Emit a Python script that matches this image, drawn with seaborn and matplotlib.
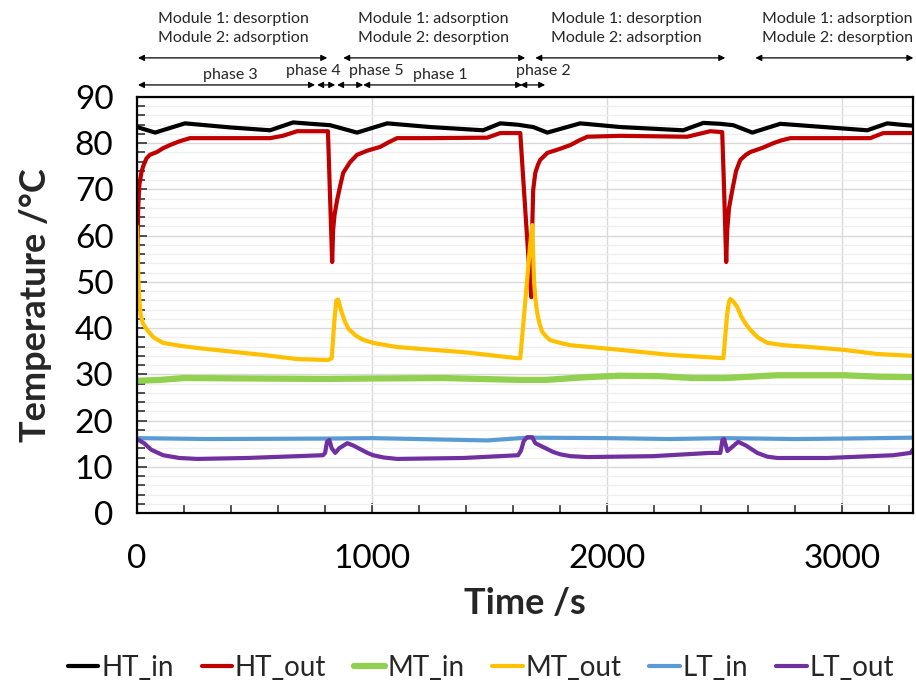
import numpy as np
import pandas as pd
import seaborn as sns
import matplotlib.pyplot as plt
from matplotlib.ticker import MultipleLocator
import matplotlib.transforms as mtransforms

# values (time in s, temperature in degC)
t_ht_in = [0, 77, 204, 400, 566, 664, 740, 821, 936, 1064, 1247, 1472, 1545, 1620, 1685,
           1745, 1885, 2055, 2323, 2409, 2480, 2536, 2617, 2736, 3106, 3191, 3250, 3300]
ht_in = [83.5, 82.3, 84.3, 83.4, 82.8, 84.5, 84.2, 83.9, 82.3, 84.3, 83.5, 82.8, 84.3, 84.0, 83.5,
         82.3, 84.3, 83.5, 82.8, 84.4, 84.2, 83.9, 82.3, 84.2, 82.8, 84.3, 84.0, 83.8]

t_ht_out = [0, 2, 5, 10, 18, 26, 40, 55, 85, 110, 140, 180, 225, 400, 566, 620, 681, 812, 820,
            830, 834, 840, 851, 865, 877, 906, 936, 980, 1034, 1070, 1106, 1247, 1489, 1545,
            1630, 1655, 1672, 1677, 1680, 1685, 1690, 1694, 1705, 1715, 1745, 1800, 1843, 1880,
            1915, 2055, 2340, 2438, 2489, 2497, 2506, 2510, 2518, 2532, 2548, 2566, 2590, 2609,
            2660, 2706, 2740, 2779, 3119, 3174, 3300]
ht_out = [47, 58, 66, 71, 73.5, 75, 76.7, 77.5, 78.1, 78.9, 79.6, 80.4, 81.1, 81.1, 81.1, 81.6,
          82.6, 82.6, 70, 54.3, 61.2, 64.5, 67.7, 71.0, 73.6, 75.9, 77.5, 78.4, 79.2, 80.2, 81.1,
          81.1, 81.2, 82.2, 82.2, 62.7, 49.8, 46.7, 60, 69.9, 72.0, 73.6, 75.3, 76.4, 77.9, 78.8,
          79.6, 80.6, 81.4, 81.6, 81.4, 82.6, 82.4, 70, 54.3, 61, 66, 69.9, 74.0, 76.4, 77.5,
          78.1, 79.0, 80.0, 80.6, 81.1, 81.1, 82.2, 82.2]

t_mt_in = [0, 100, 200, 500, 800, 1000, 1300, 1620, 1740, 1915, 2055, 2226, 2366, 2500, 2723,
           3004, 3150, 3300]
mt_in = [28.6, 28.8, 29.2, 29.1, 29.0, 29.1, 29.2, 28.8, 28.8, 29.4, 29.7, 29.6, 29.2, 29.2, 29.8,
         29.8, 29.5, 29.4]

t_mt_out = [0, 3, 6, 10, 15, 25, 43, 70, 111, 180, 255, 536, 681, 813, 828, 840, 848, 855, 862,
            870, 885, 900, 930, 960, 1004, 1106, 1387, 1617, 1630, 1650, 1672, 1681, 1685, 1689,
            1695, 1702, 1712, 1723, 1740, 1757, 1800, 1843, 2055, 2268, 2494, 2500, 2510, 2517,
            2523, 2535, 2553, 2570, 2590, 2609, 2640, 2681, 2750, 2864, 3004, 3149, 3300]
mt_out = [62, 55, 50, 46, 43, 41, 39.6, 38.0, 36.8, 36.2, 35.7, 34.2, 33.3, 33.1, 33.5, 42, 46,
          46.2, 45, 43.5, 41.3, 39.8, 38.4, 37.5, 36.8, 35.9, 34.8, 33.5, 33.5, 45, 58, 62.3, 56,
          49.8, 46, 43.3, 41, 39.2, 38.2, 37.4, 36.8, 36.3, 35.3, 34.2, 33.5, 37, 43, 45.5, 46.3,
          45.8, 44.6, 42.5, 40.8, 39.6, 38.0, 36.8, 36.3, 35.9, 35.3, 34.4, 34.0]

t_lt_in = [0, 300, 800, 1000, 1489, 1660, 2000, 2268, 2500, 2800, 3000, 3300]
lt_in = [16.2, 16.0, 16.1, 16.2, 15.7, 16.3, 16.2, 16.0, 16.2, 16.0, 16.1, 16.3]

t_lt_out = [0, 30, 60, 111, 180, 255, 468, 791, 800, 808, 818, 828, 843, 860, 894, 920, 950, 980,
            1004, 1050, 1106, 1387, 1621, 1633, 1645, 1660, 1681, 1694, 1730, 1770, 1800, 1843,
            1915, 2196, 2438, 2481, 2490, 2497, 2511, 2557, 2590, 2638, 2680, 2723, 2936, 3217,
            3290, 3300]
lt_out = [16.0, 15.1, 13.7, 12.5, 11.9, 11.7, 11.9, 12.5, 13.0, 15.4, 15.8, 14.0, 13.0, 14.0,
          15.1, 14.6, 13.8, 13.0, 12.5, 12.0, 11.7, 11.9, 12.5, 13.5, 15.6, 16.4, 16.4, 15.1,
          14.2, 13.2, 12.7, 12.3, 12.1, 12.3, 13.0, 13.0, 15.8, 16.0, 13.4, 15.4, 14.6, 13.0,
          12.2, 11.9, 11.9, 12.5, 13.0, 13.7]

series = [
    ("HT_in", t_ht_in, ht_in, "#000000", 3.0),
    ("HT_out", t_ht_out, ht_out, "#C00000", 3.0),
    ("MT_in", t_mt_in, mt_in, "#92D050", 4.5),
    ("MT_out", t_mt_out, mt_out, "#FFC000", 3.0),
    ("LT_in", t_lt_in, lt_in, "#5B9BD5", 3.0),
    ("LT_out", t_lt_out, lt_out, "#7030A0", 3.0),
]

# mode / phase annotations above the plot
mode_x = [410, 1260, 2080, 2980]
mode_text = ["Module 1: desorption\nModule 2: adsorption",
             "Module 1: adsorption\nModule 2: desorption",
             "Module 1: desorption\nModule 2: adsorption",
             "Module 1: adsorption\nModule 2: desorption"]
mode_spans = [(4, 809), (877, 1651), (1694, 2502), (2630, 3302)]
phase_names = ["phase 3", "phase 4", "phase 5", "phase 1", "phase 2"]
phase_spans = [(4, 757), (766, 843), (851, 962), (962, 1638), (1630, 1736)]
phase_label_x = [396, 749, 1017, 1289, 1728]

sns.set_style("white")
plt.rcParams['font.family'] = ['Lato', 'DejaVu Sans']

fig = plt.figure(figsize=(9.16, 6.85), dpi=100)
ax = fig.add_axes([0.1496, 0.2511, 0.847, 0.6073])

for name, t, v, col, lw in series:
    df = pd.DataFrame({"time": t, "temp": v})
    sns.lineplot(data=df, x="time", y="temp", ax=ax, color=col, linewidth=lw,
                 label=name, estimator=None, sort=False)

ax.set_xlim(0, 3300)
ax.set_ylim(0, 90)
ax.xaxis.set_major_locator(MultipleLocator(1000))
ax.xaxis.set_minor_locator(MultipleLocator(200))
ax.yaxis.set_major_locator(MultipleLocator(10))
ax.yaxis.set_minor_locator(MultipleLocator(2))
ax.grid(which="major", color="#d9d9d9", linewidth=1.0)
ax.grid(which="minor", axis="y", color="#efefef", linewidth=0.9)
ax.set_axisbelow(True)
ax.tick_params(which="both", direction="in", left=True, bottom=True, width=1.2,
               color="#333333", labelsize=24, labelcolor="black")
ax.tick_params(axis="x", pad=22)
ax.tick_params(axis="y", pad=17)
ax.tick_params(which="major", length=7)
ax.tick_params(which="minor", length=6)
for s in ax.spines.values():
    s.set_color("black")
    s.set_linewidth(1.6)

ax.set_xlabel("Time /s", fontsize=26, fontweight="bold", labelpad=10)
ax.set_ylabel("Temperature /°C", fontsize=26, fontweight="bold", labelpad=16)

trans = mtransforms.blended_transform_factory(ax.transData, ax.transAxes)
for x, txt in zip(mode_x, mode_text):
    ax.text(x, 1.165, txt, transform=trans, ha="center", va="center", fontsize=11.5,
            linespacing=1.5, clip_on=False)
for a, b in mode_spans:
    ax.annotate("", xy=(b, 1.094), xytext=(a, 1.094), xycoords=trans, textcoords=trans,
                arrowprops=dict(arrowstyle="<|-|>", color="black", lw=0.9,
                                shrinkA=0, shrinkB=0, mutation_scale=9))
for a, b in phase_spans:
    ax.annotate("", xy=(b, 1.029), xytext=(a, 1.029), xycoords=trans, textcoords=trans,
                arrowprops=dict(arrowstyle="<|-|>", color="black", lw=0.9,
                                shrinkA=0, shrinkB=0, mutation_scale=9))
for x, name in zip(phase_label_x, phase_names):
    y = 1.035 if name in ("phase 3", "phase 1") else 1.045
    ax.text(x, y, name, transform=trans, ha="center", va="bottom", fontsize=11.5)

handles, labels = ax.get_legend_handles_labels()
ax.get_legend().remove()
fig.legend(handles, labels, loc="lower center", bbox_to_anchor=(0.525, -0.03), ncol=6,
           frameon=False, fontsize=20, handlelength=1.1, handletextpad=0.1,
           columnspacing=1.0)

fig.savefig("out.png", dpi=100)
